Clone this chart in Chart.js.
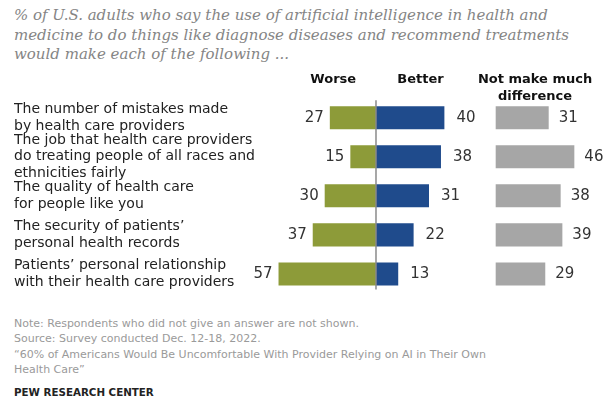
<!DOCTYPE html>
<html>
<head>
<meta charset="utf-8">
<script src="https://cdn.jsdelivr.net/npm/chart.js@4.4.0/dist/chart.umd.min.js"></script>
<style>
  body { margin: 0; background: #fff; width: 604px; height: 401px; position: relative; overflow: hidden; }
  #title { position: absolute; left: 14px; top: 6px; font: italic 15px "DejaVu Serif"; line-height: 19.5px; color: #858585; white-space: nowrap; }
  #chartBox { position: absolute; left: 0; top: 70px; width: 604px; height: 240px; }
  #notes { position: absolute; left: 14px; top: 316px; font: 11px "DejaVu Sans"; line-height: 15.4px; color: #9a9a9a; white-space: nowrap; }
  #credit { position: absolute; left: 14px; top: 386px; font: bold 10.3px "DejaVu Sans"; color: #222; }
</style>
</head>
<body>
<div id="title">% of U.S. adults who say the use of artificial intelligence in health and<br>medicine to do things like diagnose diseases and recommend treatments<br>would make each of the following ...</div>
<div id="chartBox"><canvas id="chart" width="604" height="240"></canvas></div>
<div id="notes">Note: Respondents who did not give an answer are not shown.<br>Source: Survey conducted Dec. 12-18, 2022.<br>“60% of Americans Would Be Uncomfortable With Provider Relying on AI in Their Own<br>Health Care”</div>
<div id="credit">PEW RESEARCH CENTER</div>
<script>
var categories = [
  ["The number of mistakes made", "by health care providers"],
  ["The job that health care providers", "do treating people of all races and", "ethnicities fairly"],
  ["The quality of health care", "for people like you"],
  ["The security of patients’", "personal health records"],
  ["Patients’ personal relationship", "with their health care providers"]
];
var worse = [27, 15, 30, 37, 57];
var better = [40, 38, 31, 22, 13];
var noDiff = [31, 46, 38, 39, 29];

// where the "not make much difference" column starts on the shared x axis
var noDiffStart = 70;

var labelsPlugin = {
  id: 'barLabels',
  afterDatasetsDraw: function(chart) {
    var ctx = chart.ctx;
    var xs = chart.scales.x;
    var area = chart.chartArea;
    ctx.save();

    var x0 = xs.getPixelForValue(0);
    ctx.strokeStyle = '#8a8a8a';
    ctx.lineWidth = 1.5;
    ctx.beginPath();
    ctx.moveTo(x0, area.top + 2);
    ctx.lineTo(x0, area.bottom - 4);
    ctx.stroke();

    ctx.font = '15px "DejaVu Sans"';
    ctx.fillStyle = '#333';
    ctx.textBaseline = 'middle';
    var sets = [[worse, -6, 'right'], [better, 12, 'left'], [noDiff, 10, 'left']];
    sets.forEach(function(s, i) {
      chart.getDatasetMeta(i).data.forEach(function(bar, j) {
        ctx.textAlign = s[2];
        ctx.fillText(s[0][j], bar.x + s[1], bar.y);
      });
    });

    ctx.font = 'bold 13px "DejaVu Sans"';
    ctx.fillStyle = '#111';
    ctx.textAlign = 'center';
    ctx.fillText('Worse', xs.getPixelForValue(-25), 10);
    ctx.fillText('Better', xs.getPixelForValue(26), 10);
    ctx.fillText('Not make much', xs.getPixelForValue(93), 10);
    ctx.fillText('difference', xs.getPixelForValue(93), 27);
    ctx.restore();
  }
};

new Chart(document.getElementById('chart'), {
  type: 'bar',
  data: {
    labels: categories,
    datasets: [
      { label: 'Worse', data: worse.map(function(v) { return -v; }), backgroundColor: '#8d9b39' },
      { label: 'Better', data: better, backgroundColor: '#1f4b8c' },
      { label: 'Not make much difference', data: noDiff.map(function(v) { return [noDiffStart, noDiffStart + v]; }), backgroundColor: '#a6a6a6' }
    ]
  },
  options: {
    indexAxis: 'y',
    responsive: false,
    devicePixelRatio: 1,
    animation: false,
    layout: { padding: { left: 14, right: 2.3, top: 28.2, bottom: 3.7 } },
    datasets: { bar: { grouped: false, barPercentage: 0.59, categoryPercentage: 1, borderWidth: 0 } },
    scales: {
      x: { min: -60, max: 132, display: false },
      y: {
        grid: { display: false },
        border: { display: false },
        ticks: { autoSkip: false, crossAlign: 'far', padding: 0, color: '#222', font: { family: 'DejaVu Sans', size: 14, lineHeight: 1.18 } },
        afterFit: function(scale) { scale.width = 259.4; }
      }
    },
    plugins: { legend: { display: false }, tooltip: { enabled: false } }
  },
  plugins: [labelsPlugin]
});
</script>
</body>
</html>
